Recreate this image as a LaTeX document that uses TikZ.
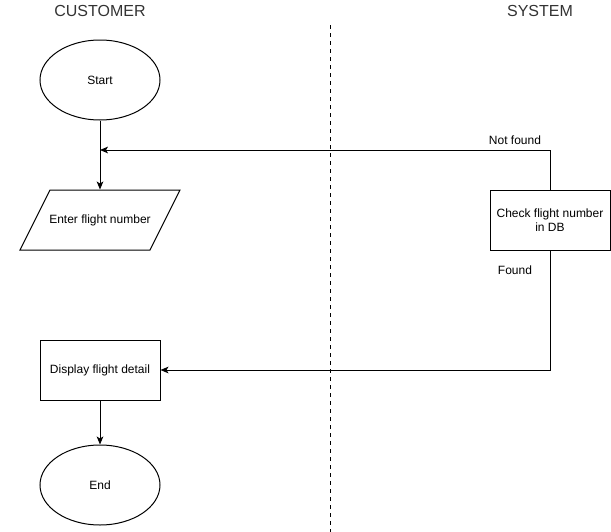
\documentclass[tikz,border=0pt]{standalone}
\usepackage{fontspec}
\setmainfont{Liberation Sans}
\usetikzlibrary{arrows.meta}
\usetikzlibrary{shapes.geometric}
\tikzstyle{base}=[x=0.75pt, y=-0.75pt, font=\fontsize{9}{11}\selectfont, line width=0.75pt]
\tikzstyle{terminal}=[draw, ellipse, minimum width=90pt, minimum height=60pt, inner sep=0pt]
\tikzstyle{process}=[draw, rectangle, minimum width=90pt, minimum height=45pt, inner sep=0pt, align=center]
\tikzstyle{io}=[rectangle, minimum width=97.5pt, minimum height=45pt, inner sep=0pt]
\tikzstyle{flow}=[-{Stealth[length=6pt, width=5pt, inset=1.5pt]}]
\tikzstyle{lane}=[font=\fontsize{12}{14}\selectfont, text=black!80]

\begin{document}
\begin{tikzpicture}[base]
    \path [use as bounding box] (0,0) rectangle (611,532);
    % lanes
    \node [lane] (customer) at (100,11) {CUSTOMER};
    \node [lane] (system) at (540,11) {SYSTEM};
    \coordinate (divtop) at (330,25);
    \coordinate (divbot) at (330,532);
    \draw [dashed, line width=0.5pt, dash pattern=on 3pt off 3pt] (divtop) -- (divbot);
    % nodes
    \node [terminal] (start) at (100,80) {Start};
    \node [io] (enter) at (100,220) {Enter flight number};
    \draw (20,250) -- (150,250) -- (180,190) -- (50,190) -- cycle;
    \node [process] (check) at (550,220) {Check flight number\\in DB};
    \node [process] (display) at (100,370) {Display flight detail};
    \node [terminal] (end) at (100,485) {End};
    % connectors
    \draw [flow] (start) -- (enter);
    \draw [flow] (check.north) |- (100,150);
    \draw [flow] (check.south) |- (display.east);
    \draw [flow] (display) -- (end);
    \node (notfound) at (515,140) {Not found};
    \node (found) at (515,270) {Found};
\end{tikzpicture}
\end{document}
